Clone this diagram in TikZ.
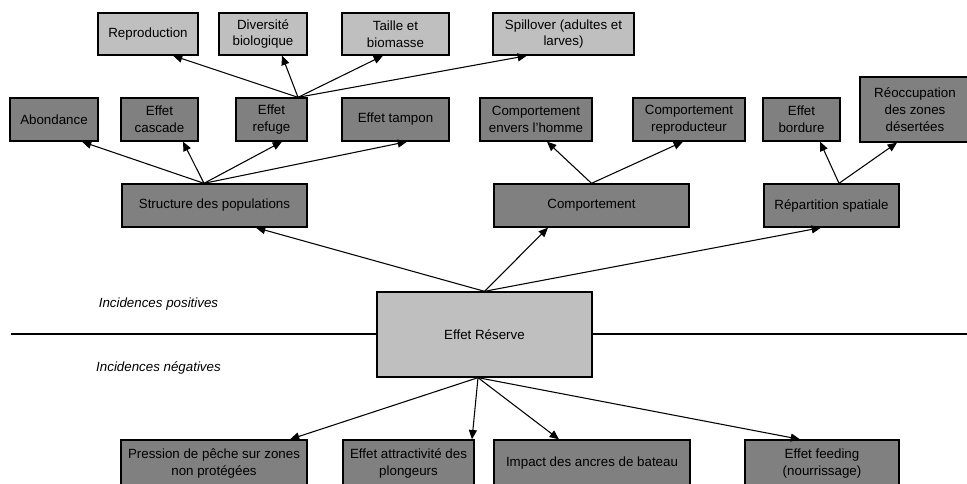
\documentclass[tikz,border=0pt]{standalone}
\usepackage{fontspec}
\setmainfont{Liberation Sans}
\usetikzlibrary{arrows.meta,calc}

\begin{document}
\begin{tikzpicture}[x=0.75pt,y=-0.75pt,>={Triangle[length=7pt,width=6pt]},
  box/.style={draw=black,line width=1pt,align=center,inner sep=1pt,
    font=\fontsize{10}{12.5}\selectfont},
  lightbox/.style={box,fill=black!25},
  darkbox/.style={box,fill=black!50},
  arr/.style={->,line width=0.8pt}]
 \useasboundingbox (0,0) rectangle (967,484);
 % central box
 \node[lightbox,minimum width=161.25pt,minimum height=63.75pt] (reserve) at (484.5,334.5) {Effet Réserve};
 \coordinate (lineL) at (11,334.5);
 \coordinate (lineR) at (967,334.5);
 \draw[line width=1.5pt] (lineL)--(reserve.west);
 \draw[line width=1.5pt] (reserve.east)--(lineR);
 \node[font=\fontsize{10}{12}\selectfont\itshape] (pos) at (158.5,304) {Incidences positives};
 \node[font=\fontsize{10}{12}\selectfont\itshape] (neg) at (158.5,368) {Incidences négatives};
 % third row
 \node[darkbox,minimum width=138.75pt,minimum height=32.25pt] (struct) at (214.5,205.5) {Structure des populations};
 \node[darkbox,minimum width=146.25pt,minimum height=32.25pt] (comport) at (591.5,205.5) {Comportement};
 \node[darkbox,minimum width=101.25pt,minimum height=32.25pt] (repart) at (831.5,205.5) {Répartition spatiale};
 % second row
 \node[darkbox,minimum width=66pt,minimum height=32.25pt] (abond) at (54,119.5) {Abondance};
 \node[darkbox,minimum width=57.75pt,minimum height=32.25pt] (cascade) at (159.5,119.5) {Effet\\cascade};
 \node[darkbox,minimum width=53.25pt,minimum height=32.25pt] (refuge) at (271.5,119.5) {Effet\\refuge};
 \node[darkbox,minimum width=80.25pt,minimum height=32.25pt] (tampon) at (395.5,119.5) {Effet tampon};
 \node[darkbox,minimum width=84pt,minimum height=32.25pt] (envers) at (536,119.5) {Comportement\\envers l'homme};
 \node[darkbox,minimum width=84pt,minimum height=32.25pt] (reprod) at (689,119.5) {Comportement\\reproducteur};
 \node[darkbox,minimum width=57.75pt,minimum height=32.25pt] (bordure) at (801.5,119.5) {Effet\\bordure};
 \node[darkbox,minimum width=82.5pt,minimum height=48.75pt] (reocc) at (915,109.5) {Réoccupation\\des zones\\désertées};
 % top row
 \node[lightbox,minimum width=75pt,minimum height=31.5pt] (repro) at (148,34) {Reproduction};
 \node[lightbox,minimum width=66pt,minimum height=31.5pt] (divers) at (263,34) {Diversité\\biologique};
 \node[lightbox,minimum width=80.25pt,minimum height=31.5pt] (taille) at (395.5,34) {Taille et\\biomasse};
 \node[lightbox,minimum width=105.75pt,minimum height=31.5pt] (spill) at (563.5,34) {Spillover (adultes et\\larves)};
 % bottom row
 \node[darkbox,minimum width=139.5pt,minimum height=35.25pt] (pression) at (214,463.5) {Pression de pêche sur zones\\non protégées};
 \node[darkbox,minimum width=98.25pt,minimum height=35.25pt] (attract) at (408.5,463.5) {Effet attractivité des\\plongeurs};
 \node[darkbox,minimum width=147pt,minimum height=35.25pt] (impact) at (592,463.5) {Impact des ancres de bateau};
 \node[darkbox,minimum width=115.5pt,minimum height=35.25pt] (feeding) at (822,463.5) {Effet feeding\\(nourrissage)};
 % arrows
 \draw[arr] (reserve.north)--($(struct.south)+(41.5,0)$);
 \draw[arr] (reserve.north)--($(comport.south)+(-43.5,0)$);
 \draw[arr] (reserve.north)--($(repart.south)+(-10.5,0)$);
 \draw[arr] ($(struct.north)+(-10.5,0)$)--($(abond.south)+(28,0)$);
 \draw[arr] ($(struct.north)+(-10.5,0)$)--($(cascade.south)+(23.5,0)$);
 \draw[arr] ($(struct.north)+(-10.5,0)$)--($(refuge.south)+(10.5,0)$);
 \draw[arr] ($(struct.north)+(-10.5,0)$)--($(tampon.south)+(11.5,0)$);
 \draw[arr] ($(refuge.north)+(26.5,0)$)--($(repro.south)+(25,0)$);
 \draw[arr] ($(refuge.north)+(26.5,0)$)--($(divers.south)+(19,0)$);
 \draw[arr] ($(refuge.north)+(26.5,0)$)--($(taille.south)+(-12.5,0)$);
 \draw[arr] ($(refuge.north)+(26.5,0)$)--($(spill.south)+(-36.5,0)$);
 \draw[arr] (comport.north)--($(envers.south)+(11,0)$);
 \draw[arr] (comport.north)--($(reprod.south)+(-6,0)$);
 \draw[arr] ($(repart.north)+(7.5,0)$)--($(bordure.south)+(18.5,0)$);
 \draw[arr] ($(repart.north)+(7.5,0)$)--($(reocc.south)+(-18,0)$);
 \draw[arr] ($(reserve.south)+(-6.5,0)$)--($(pression.north)+(76,0)$);
 \draw[arr] ($(reserve.south)+(-6.5,0)$)--($(attract.north)+(63.5,0)$);
 \draw[arr] ($(reserve.south)+(-6.5,0)$)--($(impact.north)+(-33,0)$);
 \draw[arr] ($(reserve.south)+(-6.5,0)$)--($(feeding.north)+(-22,0)$);
\end{tikzpicture}
\end{document}
